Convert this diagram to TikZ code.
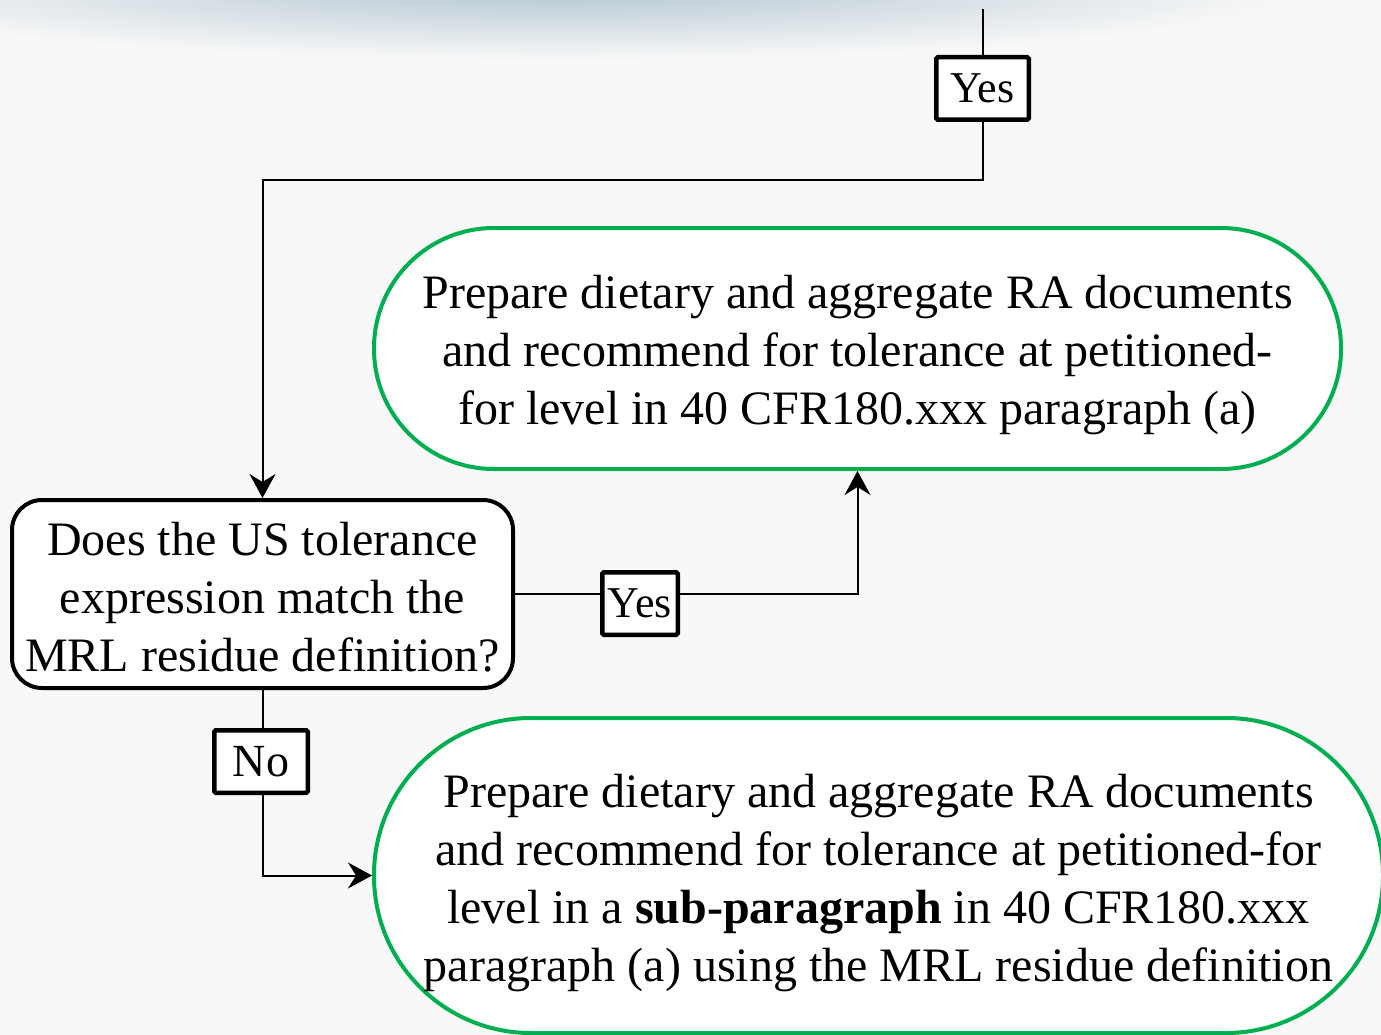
\documentclass[tikz,border=0pt]{standalone}
\usepackage{fontspec}
\setmainfont{Liberation Serif}
\usetikzlibrary{arrows.meta}
\definecolor{bggray}{HTML}{F8F8F8}
\definecolor{shadowblue}{RGB}{176,196,208}
\definecolor{okgreen}{HTML}{00B050}
% invisible strut that lowers a node's text
\newcommand{\lowerby}[1]{\rule{0pt}{#1}}

\begin{document}
\begin{tikzpicture}[x=1pt,y=-1pt,
	wire/.style={line width=2pt},
	>={Stealth[length=24pt,width=26pt,inset=8pt]},
	result/.style={draw=okgreen, line width=4pt, fill=white, align=center,
		font=\fontsize{48}{58}\selectfont},
	question/.style={draw=black, line width=4pt, fill=white, align=center,
		rounded corners=30pt, font=\fontsize{48}{58}\selectfont},
	tag/.style={draw=black, line width=4.5pt, fill=white, rounded corners=1.5pt,
		inner sep=0pt, minimum height=62.5pt}]
	% page and shadow at the top
	\useasboundingbox (0,0) rectangle (1381,1035);
	\fill[bggray] (0,0) rectangle (1381,1035);
	\shade[inner color=shadowblue, outer color=bggray] (560,-15) ellipse (760 and 75);
	
	% boxes
	\node[result, minimum width=967pt, minimum height=241pt, rounded corners=120pt] (prep) at (857.5,348.5)
	{\lowerby{47pt}Prepare dietary and aggregate RA documents\\and recommend for tolerance at petitioned-\\for level in 40 CFR180.xxx paragraph (a)};
	\node[question, minimum width=501pt, minimum height=188pt] (match) at (262.5,594)
	{\lowerby{39pt}Does the US tolerance\\expression match the\\MRL residue definition?};
	\node[result, minimum width=1009pt, minimum height=315pt, rounded corners=157pt] (prepsub) at (878.5,875.5)
	{\lowerby{49pt}Prepare dietary and aggregate RA documents\\and recommend for tolerance at petitioned-for\\level in a \textbf{sub-paragraph} in 40 CFR180.xxx\\paragraph (a) using the MRL residue definition};
	
	% connectors
	\coordinate (topin) at (983,9);
	\draw[wire, ->] (topin) -- ++(0,171) -| (match.north);
	\draw[wire, ->] (match.east) -| (prep.south);
	\draw[wire, ->] (match.south) |- (prepsub.west);
	
	% yes / no tags on the lines
	\node[tag, minimum width=92.5pt, font=\fontsize{44}{50}\selectfont] (yestop) at (982.5,88.5) {Yes};
	\node[tag, minimum width=75.5pt, font=\fontsize{44}{50}\selectfont] (yesmid) at (640,603.5) {Yes};
	\node[tag, minimum width=93.5pt, font=\fontsize{46}{50}\selectfont] (no) at (261,761.5) {No};
\end{tikzpicture}
\end{document}
